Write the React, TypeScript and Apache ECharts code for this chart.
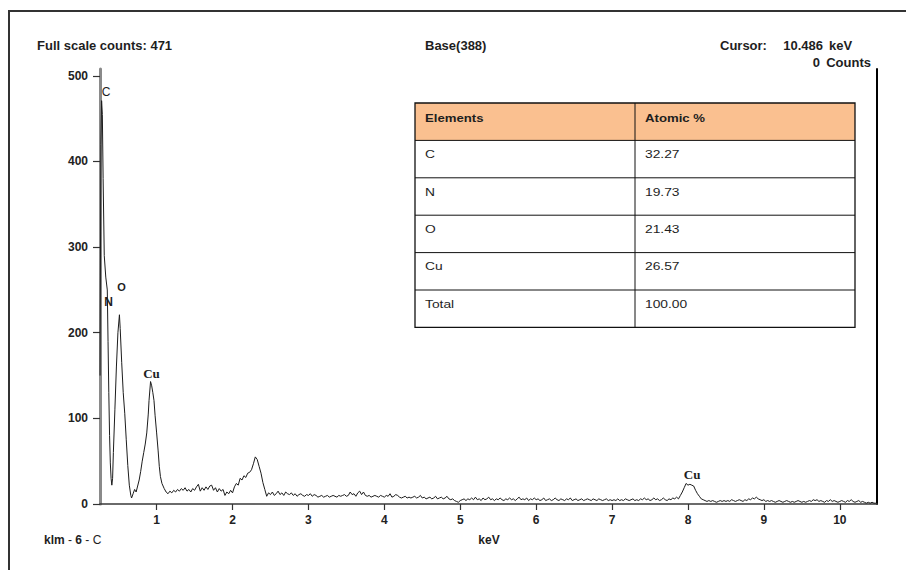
import React, { useEffect, useRef } from "react";
import * as echarts from "echarts";

// ---- Spectrum data (keV, counts) ----
const peakPoints: [number, number][] = [
  [0.255, 150], [0.265, 420], [0.275, 471], [0.285, 455], [0.295, 380], [0.31, 290],
  [0.33, 265], [0.35, 250], [0.36, 190], [0.37, 130], [0.38, 80], [0.39, 48],
  [0.4, 30], [0.41, 22], [0.42, 30], [0.43, 60], [0.45, 110], [0.47, 160],
  [0.49, 200], [0.51, 221], [0.52, 205], [0.54, 165], [0.56, 130], [0.58, 106],
  [0.6, 75], [0.62, 45], [0.64, 22], [0.66, 10], [0.67, 7], [0.69, 12],
  [0.71, 17], [0.73, 14], [0.75, 21], [0.77, 28], [0.79, 38], [0.81, 50],
  [0.83, 60], [0.85, 70], [0.87, 83], [0.89, 105], [0.9, 121], [0.92, 143],
  [0.935, 138], [0.95, 130], [0.965, 121], [0.98, 103], [1.0, 83], [1.02, 62],
  [1.035, 44], [1.05, 32], [1.07, 24], [1.085, 21],
];

const CHANNEL = 0.025;
const seg1Start = 1.1;
const seg1Counts = [18, 14, 12, 15, 13, 16, 14, 17, 15, 18, 16, 19, 15, 17, 14, 18, 16, 20, 23, 15, 19, 16, 20, 17, 21, 22, 16, 19, 14, 18, 15, 17, 10, 14, 12, 16, 13];
const seg2Start = 2.025;
const seg2Counts = [20, 24, 22, 30, 28, 33, 31, 36, 37, 40, 47, 55, 52, 44, 36, 25, 17, 9, 13, 11];
const seg3Start = 2.525;
const seg3Counts = [14, 10, 12, 15, 11, 13, 10, 14, 12, 11, 13, 10, 12, 9, 11, 12, 10, 9, 11, 10];
const seg4Start = 3.025;
const seg4Counts = [12, 9, 11, 10, 8, 9, 10, 8, 9, 10, 8, 9, 10, 9, 8, 10, 9, 10, 11, 9, 10, 14, 11, 12, 9, 13, 15, 11, 14, 10, 9, 10, 8, 9, 10, 9, 8, 10, 9, 8];
const seg5Start = 4.025;
const seg5Counts = [10, 9, 12, 8, 9, 11, 10, 8, 7, 8, 9, 7, 8, 7, 8, 9, 7, 8, 10, 7, 8, 6, 7, 8, 6, 7, 9, 6, 7, 8, 6, 7, 9, 6, 5, 6, 4, 3, 2, 4];
const seg6Start = 5.025;
const seg6Counts = [5, 6, 4, 6, 5, 7, 5, 8, 5, 6, 4, 7, 5, 6, 8, 5, 6, 4, 6, 5, 7, 5, 4, 6, 5, 7, 5, 6, 4, 6, 8, 5, 6, 5, 7, 4, 6, 5, 7, 5];
const seg7Start = 6.025;
const seg7Counts = [6, 4, 5, 7, 4, 5, 6, 4, 5, 7, 5, 4, 6, 5, 4, 6, 5, 7, 4, 5, 6, 4, 5, 6, 4, 5, 6, 5, 4, 6, 5, 4, 6, 5, 4, 5, 6, 4, 5, 4];
const seg8Start = 7.025;
const seg8Counts = [5, 4, 6, 4, 5, 4, 6, 5, 4, 5, 6, 4, 5, 4, 6, 5, 7, 5, 6, 4, 5, 7, 5, 6, 4, 5, 7, 5, 4, 6, 5, 7, 6, 8];
const seg9Start = 7.875;
const seg9Counts = [6, 10, 14, 19, 24, 22, 23, 22, 21, 16, 12, 9, 6, 5, 4, 3];
const seg10Start = 8.275;
const seg10Counts = [4, 3, 4, 3, 2, 3, 4, 3, 4, 3, 4, 3, 5, 4, 3, 4, 5, 4, 3, 5, 4, 6, 5, 7, 6, 8, 6, 5, 4, 5, 3, 4, 3, 4, 3, 2, 3, 4, 3, 2, 3, 4, 3, 2, 3, 2, 3, 4, 3, 2, 3, 2, 3, 4, 3, 5, 4, 5, 3, 4, 3, 2, 4, 3, 5, 3, 4, 3, 2, 3, 4, 3, 2, 4, 3, 5, 3, 2, 3, 4, 2, 3, 2, 1, 2, 1, 2, 1, 1];

const segments: [number, number[]][] = [
  [seg1Start, seg1Counts], [seg2Start, seg2Counts], [seg3Start, seg3Counts],
  [seg4Start, seg4Counts], [seg5Start, seg5Counts], [seg6Start, seg6Counts],
  [seg7Start, seg7Counts], [seg8Start, seg8Counts], [seg9Start, seg9Counts],
  [seg10Start, seg10Counts],
];

const xTickValues = [1, 2, 3, 4, 5, 6, 7, 8, 9, 10];
const yTickValues = [0, 100, 200, 300, 400, 500];
const X_MIN = 0.254;
const X_MAX = 10.49;
const Y_MAX = 508;

const peakLabelNames = ["C", "N", "O", "Cu", "Cu"];
const peakLabelEnergy = [0.333, 0.366, 0.537, 0.933, 8.054];
const peakLabelCounts = [481, 236, 253, 152, 34];

const tableHeaders = ["Elements", "Atomic %"];
const tableElements = ["C", "N", "O", "Cu", "Total"];
const tableAtomic = ["32.27", "19.73", "21.43", "26.57", "100.00"];

const headerLeft = "Full scale counts: 471";
const headerMid = "Base(388)";
const cursorLabel = "Cursor:";
const cursorValue = "10.486";
const cursorUnit = "keV";
const countsValue = "0";
const countsUnit = "Counts";
const sampleName = "{b|klm} - {b|6} - C";
const xAxisName = "keV";

const SANS = '"Liberation Sans", Arial, sans-serif';
const SERIF = '"Liberation Serif", "Times New Roman", serif';

function buildSpectrum(): [number, number][] {
  const out: [number, number][] = peakPoints.map((p) => [p[0], p[1]]);
  segments.forEach(([start, counts]) => {
    counts.forEach((c, i) => {
      out.push([+(start + i * CHANNEL).toFixed(3), c]);
    });
  });
  return out;
}

function txt(x: number, y: number, text: string, font: string, align = "left", extra: any = {}) {
  return {
    type: "text",
    x,
    y,
    silent: true,
    ...extra,
    style: {
      text,
      font,
      fill: "#1e1e1e",
      align,
      textAlign: align,
      verticalAlign: "middle",
      textVerticalAlign: "middle",
      ...(extra.style || {}),
    },
  };
}

function buildTable() {
  const left = 415;
  const right = 855;
  const top = 103;
  const rowH = 37.4;
  const colX = 635;
  const nRows = tableElements.length + 1;
  const bottom = top + rowH * nRows;
  const els: any[] = [];
  els.push({ type: "rect", shape: { x: left, y: top, width: right - left, height: rowH }, style: { fill: "#FAC090" }, silent: true });
  els.push({ type: "rect", shape: { x: left, y: top, width: right - left, height: bottom - top }, style: { fill: "none", stroke: "#111", lineWidth: 1.3 }, silent: true });
  for (let i = 1; i < nRows; i++) {
    els.push({ type: "line", shape: { x1: left, y1: top + rowH * i, x2: right, y2: top + rowH * i }, style: { stroke: "#111", lineWidth: 1 }, silent: true });
  }
  els.push({ type: "line", shape: { x1: colX, y1: top, x2: colX, y2: bottom }, style: { stroke: "#111", lineWidth: 1 }, silent: true });
  const tf = `10px ${SANS}`;
  const tfb = `bold 10px ${SANS}`;
  els.push(txt(left + 10, top + 15, tableHeaders[0], tfb, "left", { scaleX: 1.32 }));
  els.push(txt(colX + 10, top + 15, tableHeaders[1], tfb, "left", { scaleX: 1.32 }));
  tableElements.forEach((e, i) => {
    const y = top + rowH * (i + 1) + 14.5;
    els.push(txt(left + 10, y, e, tf, "left", { scaleX: 1.38 }));
    els.push(txt(colX + 10, y, tableAtomic[i], tf, "left", { scaleX: 1.38 }));
  });
  return els;
}

export default function App() {
  const ref = useRef<HTMLDivElement>(null);
  useEffect(() => {
    if (!ref.current) return;
    const chart = echarts.init(ref.current, undefined, { renderer: "svg" });
    const spectrum = buildSpectrum();
    const labelFonts = [
      { fontFamily: SANS, fontSize: 12, fontWeight: "normal" },
      { fontFamily: SANS, fontSize: 12, fontWeight: "bold" },
      { fontFamily: SANS, fontSize: 11, fontWeight: "bold" },
      { fontFamily: SERIF, fontSize: 13, fontWeight: "bold" },
      { fontFamily: SERIF, fontSize: 13, fontWeight: "bold" },
    ];
    const option: any = {
      animation: false,
      grid: { left: 100, right: 29, top: 69, bottom: 66 },
      xAxis: {
        type: "value",
        min: X_MIN,
        max: X_MAX,
        axisLine: { show: true, onZero: false, lineStyle: { color: "#3a3a3a", width: 1.5 } },
        axisTick: { show: true, customValues: xTickValues, length: 6, lineStyle: { color: "#333", width: 1.2 } },
        axisLabel: { customValues: xTickValues, margin: 10, fontFamily: SANS, fontWeight: "bold", fontSize: 12, color: "#222" },
        splitLine: { show: false },
      },
      yAxis: [
        {
          type: "value",
          min: 0,
          max: Y_MAX,
          axisLine: { show: true, lineStyle: { color: "#8a8a8a", width: 3 } },
          axisTick: { show: true, customValues: yTickValues, length: 7, lineStyle: { color: "#333", width: 1.2 } },
          axisLabel: { customValues: yTickValues, margin: 12, fontFamily: SANS, fontWeight: "bold", fontSize: 12, color: "#222" },
          splitLine: { show: false },
        },
        {
          type: "value",
          position: "right",
          min: 0,
          max: Y_MAX,
          axisLine: { show: true, lineStyle: { color: "#000", width: 2 } },
          axisTick: { show: false },
          axisLabel: { show: false },
          splitLine: { show: false },
        },
      ],
      series: [
        {
          type: "line",
          data: spectrum,
          yAxisIndex: 0,
          showSymbol: false,
          symbol: "none",
          lineStyle: { color: "#1c1c1c", width: 1 },
          silent: true,
          markPoint: {
            symbol: "circle",
            symbolSize: 1,
            itemStyle: { color: "rgba(0,0,0,0)" },
            silent: true,
            data: peakLabelNames.map((n, i) => ({
              name: n,
              coord: [peakLabelEnergy[i], peakLabelCounts[i]],
              label: { show: true, position: "inside", formatter: "{b}", color: "#1e1e1e", ...labelFonts[i] },
            })),
          },
        },
      ],
      graphic: [
        { type: "rect", shape: { x: 9, y: 11, width: 1200, height: 1200 }, style: { fill: "none", stroke: "#333", lineWidth: 2 }, silent: true },
        txt(37, 45, headerLeft, `bold 13px ${SANS}`),
        txt(425, 45, headerMid, `bold 13px ${SANS}`),
        txt(720, 45, cursorLabel, `bold 13px ${SANS}`),
        txt(823, 45, cursorValue, `bold 13px ${SANS}`, "right"),
        txt(829, 45, cursorUnit, `bold 13px ${SANS}`),
        txt(820, 62, countsValue, `bold 13px ${SANS}`, "right"),
        txt(871, 62, countsUnit, `bold 13px ${SANS}`, "right"),
        {
          type: "text",
          x: 44,
          y: 540,
          silent: true,
          style: {
            text: sampleName,
            font: `12px ${SANS}`,
            fill: "#1e1e1e",
            align: "left",
            textAlign: "left",
            verticalAlign: "middle",
            textVerticalAlign: "middle",
            rich: { b: { fontWeight: "bold", fontSize: 12, fontFamily: SANS, fill: "#1e1e1e" } },
          },
        },
        txt(489, 540, xAxisName, `bold 12px ${SANS}`, "center"),
        ...buildTable(),
      ],
    };
    chart.setOption(option);
    return () => chart.dispose();
  }, []);
  return <div ref={ref} style={{ position: "absolute", left: 0, top: 0, width: 906, height: 570, background: "#fff" }} />;
}
